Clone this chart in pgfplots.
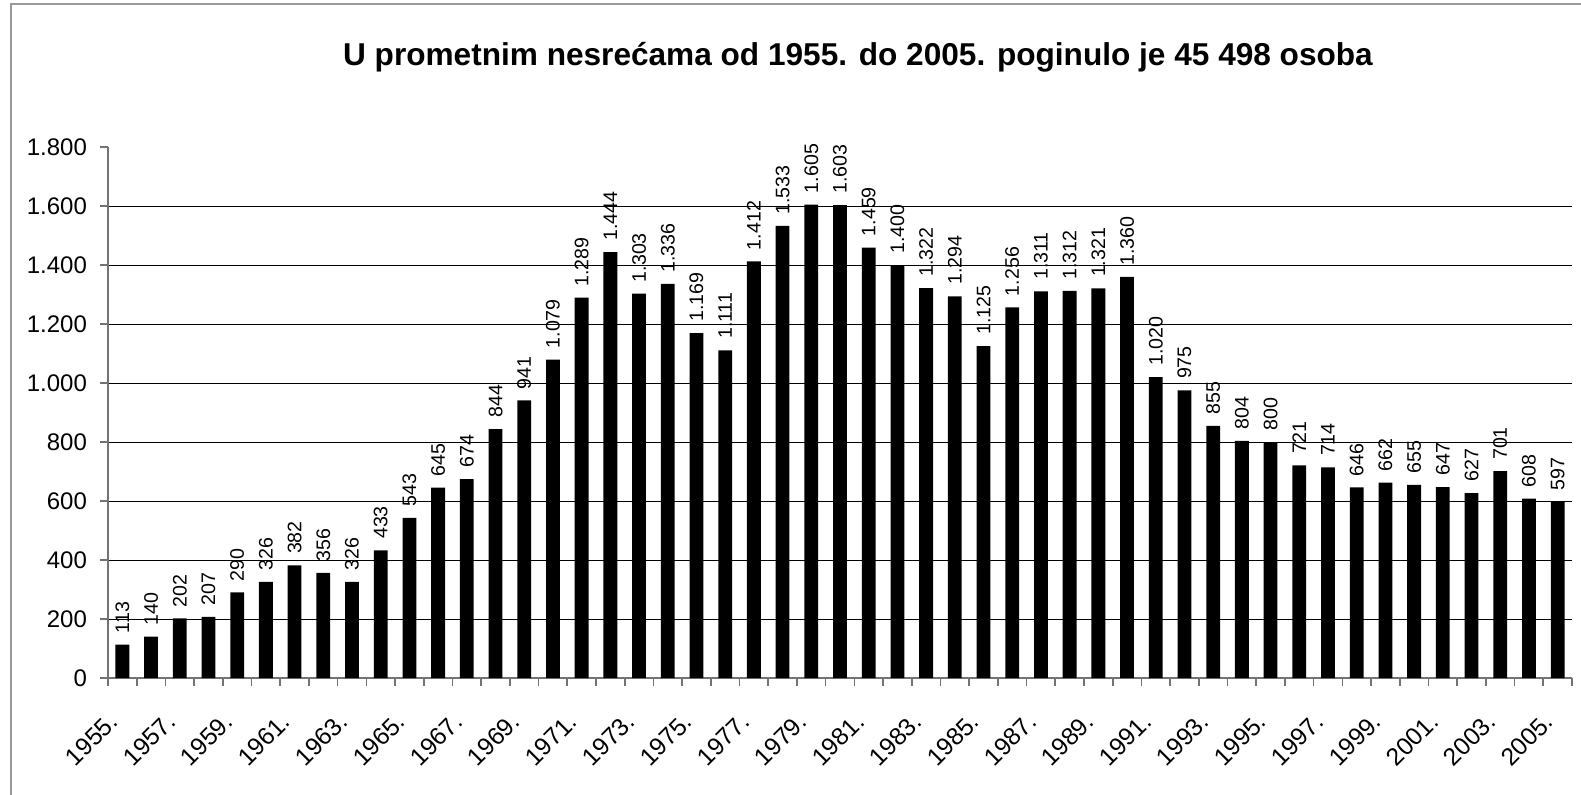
\documentclass[border=0pt]{standalone}
\usepackage{fontspec}
\setmainfont{Liberation Sans}
\usepackage{pgfplots}
\usepackage{pgfplotstable}
\pgfplotsset{compat=1.18}
\pgfplotstableread{
x y
0 113
1 140
2 202
3 207
4 290
5 326
6 382
7 356
8 326
9 433
10 543
11 645
12 674
13 844
14 941
15 1079
16 1289
17 1444
18 1303
19 1336
20 1169
21 1111
22 1412
23 1533
24 1605
25 1603
26 1459
27 1400
28 1322
29 1294
30 1125
31 1256
32 1311
33 1312
34 1321
35 1360
36 1020
37 975
38 855
39 804
40 800
41 721
42 714
43 646
44 662
45 655
46 647
47 627
48 701
49 608
50 597
}\data
\begin{document}
\begin{tikzpicture}
\useasboundingbox (0,0) rectangle (790.5pt,397pt);
\draw[black!40, line width=1pt] (5.5pt,-2pt) -- (5.5pt,394.75pt) -- (795pt,394.75pt);
\node[font=\bfseries\fontsize{15.8}{19}\selectfont] at (429pt,368.5pt) {U prometnim nesrećama od 1955. do 2005. poginulo je 45 498 osoba};
\begin{axis}[
  at={(54pt,58pt)}, anchor=south west,
  scale only axis, width=732pt, height=265.5pt,
  xmin=-0.5, xmax=50.5, ymin=0, ymax=1800,
  ybar, bar width=6.9pt,
  axis x line*=bottom, axis y line*=left,
  axis line style={black!55, line width=0.9pt, -},
  tick style={black!55, line width=0.8pt},
  tick align=outside, major tick length=4pt,
  ytick={0,200,...,1600},
  extra y ticks={1800}, extra y tick style={grid=none},
  ymajorgrids, grid style={black, line width=0.5pt},
  xtick={-0.5,0.5,...,50.5}, xticklabels={},
  extra x ticks={0,2,...,50},
  extra x tick labels={1955.,1957.,1959.,1961.,1963.,1965.,1967.,1969.,1971.,1973.,1975.,1977.,1979.,1981.,1983.,1985.,1987.,1989.,1991.,1993.,1995.,1997.,1999.,2001.,2003.,2005.},
  extra x tick style={major tick length=0pt, xticklabel style={xshift=-7.5pt, yshift=-15pt, rotate=45, anchor=north east, inner sep=1pt}},
  /pgf/number format/assume math mode=true,
  /pgf/number format/1000 sep={.},
  yticklabel style={font=\fontsize{12}{14}\selectfont, xshift=-3pt},
  xticklabel style={font=\fontsize{12.3}{14}\selectfont},
  nodes near coords,
  every node near coord/.append style={rotate=90, anchor=west, font=\fontsize{9.8}{11}\selectfont, inner xsep=5.5pt, inner ysep=0pt, black},
  clip=false,
]
\addplot[fill=black, draw=none] table[x=x, y=y] {\data};
\end{axis}
\end{tikzpicture}
\end{document}
